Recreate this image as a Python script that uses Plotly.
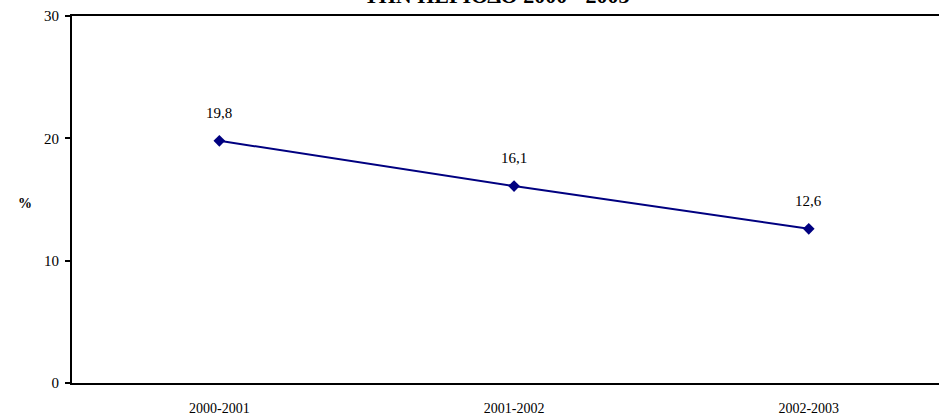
import plotly.graph_objects as go

categories = ["2000-2001", "2001-2002", "2002-2003"]
values = [19.8, 16.1, 12.6]
value_labels = ["19,8", "16,1", "12,6"]
y_ticks = [0, 10, 20, 30]
title_text = "ΤΗΝ ΠΕΡΙΟΔΟ 2000 - 2003"

W, H = 939, 416
L, T, B = 72, 16, 33
serif = "Liberation Serif"

xs = list(range(len(categories)))

fig = go.Figure()
fig.add_trace(go.Scatter(
    x=xs, y=values,
    mode="lines+markers",
    line=dict(color="#000080", width=2),
    marker=dict(symbol="diamond", size=9, color="#000080"),
    cliponaxis=False, showlegend=False,
))

cat_px = 294.7
right_val = (W - L) / cat_px - 0.5
ph = 383 - 16

annotations = [
    dict(x=x, y=v, text=t, xref="x", yref="y", showarrow=False,
         yshift=28, xanchor="center", yanchor="middle",
         font=dict(family=serif, size=15, color="black"))
    for x, v, t in zip(xs, values, value_labels)
]
annotations += [
    dict(text="<b>%</b>", xref="paper", yref="paper", x=-(L - 25) / (W - L), y=(383 - 203) / ph,
         xanchor="center", yanchor="middle", showarrow=False,
         font=dict(family=serif, size=14, color="black")),
    dict(text="<b>" + title_text + "</b>", xref="paper", yref="paper",
         x=(497 - L) / (W - L), y=1 + (T - 10) / ph,
         xanchor="center", yanchor="bottom", showarrow=False,
         font=dict(family=serif, size=22, color="black")),
]

fig.update_layout(
    width=W, height=H,
    margin=dict(l=L, r=0, t=T, b=B, pad=0, autoexpand=False),
    paper_bgcolor="white", plot_bgcolor="white",
    font=dict(family=serif, color="black"),
    xaxis=dict(
        range=[-0.5, right_val], automargin=False,
        tickmode="array", tickvals=xs, ticktext=categories,
        showline=True, linecolor="black", linewidth=2, mirror=True,
        showgrid=False, zeroline=False, ticks="",
        tickfont=dict(family=serif, size=14, color="black"),
        ticklabelstandoff=11,
    ),
    yaxis=dict(
        range=[0, 30], tickvals=y_ticks, automargin=False,
        showline=True, linecolor="black", linewidth=2,
        showgrid=False, zeroline=False,
        ticks="outside", ticklen=5, tickcolor="black", tickwidth=1.5,
        tickfont=dict(family=serif, size=15, color="black"),
        ticklabelstandoff=3,
    ),
    annotations=annotations,
)

fig.write_html(
    "out.html",
    config={"displayModeBar": False},
    post_script="document.body.style.margin='0';document.body.style.overflow='hidden';",
)
